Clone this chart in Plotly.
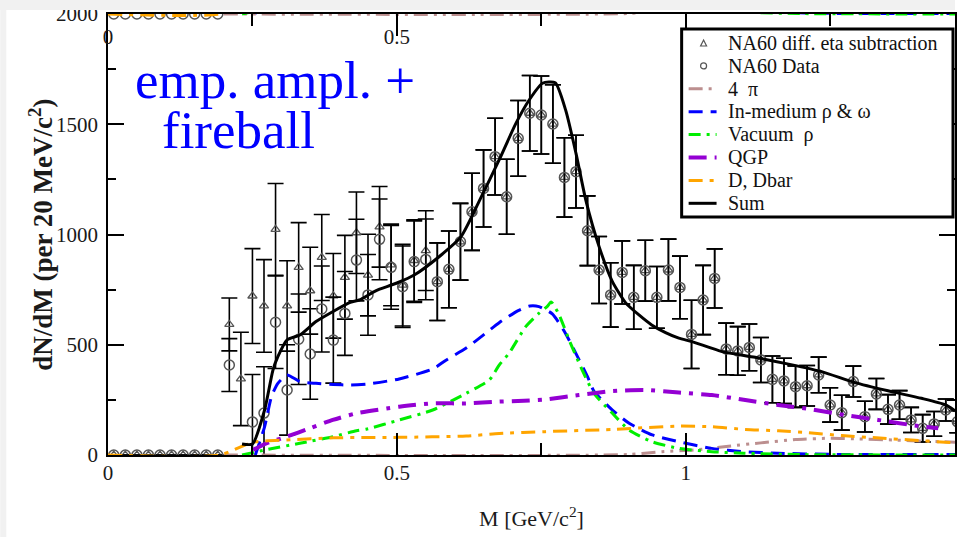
import plotly.graph_objects as go

# ---------------------------------------------------------------- data
# invariant-mass bin centres (20 MeV bins)
mass_bins = [round(0.01 + 0.02 * i, 2) for i in range(74)]

# NA60 data (open circles) and symmetric errors, one entry per bin
na60_data = [
    0, 0, 0, 0, 0, 0, 0, 0, 0, 0,                  # 0.01 - 0.19
    408, None, 150, 190, 602, 295, 525, 458,        # 0.21 - 0.35
    662, 521, 642, 884, 726, 978, 851, 763,         # 0.37 - 0.51
    877, 887, 786, 842, 967, 1103, 1209, 1353,      # 0.53 - 0.67
    1171, 1436, 1550, 1542, 1501, 1259, 1285, 1017, # 0.69 - 0.83
    839, 726, 828, 715, 836, 715, 839, 760,         # 0.85 - 0.99
    547, 703, 801, 481, 472, 488, 431, 343,         # 1.01 - 1.15
    336, 310, 314, 363, 227, 192, 333, 174,         # 1.17 - 1.31
    277, 207, 227, 159, 121, 141, 204, 151,         # 1.33 - 1.47
]
na60_data_err = [
    0, 0, 0, 0, 0, 0, 0, 0, 0, 0,
    120, 0, 215, 210, 210, 205, 205, 205,
    195, 195, 190, 185, 183, 183, 190, 185,
    185, 183, 176, 174, 174, 175, 175, 174,
    170, 172, 171, 177, 178, 180, 165, 158,
    152, 146, 143, 145, 138, 140, 140, 142,
    155, 157, 134, 117, 110, 106, 102, 106,
    103, 94, 92, 81, 78, 79, 70, 70,
    70, 67, 65, 57, 62, 56, 50, 50,
]

# NA60 with differential eta subtraction (open triangles)
na60_eta_sub = [
    0, 0, 0, 0, 0, 0, 0, 0, 0, 0,
    592, 345, 721, 676, 1023, 676, 851, 745,
    896, 722, 806, 1008, 816, 1035, 862, 770,
    882, 927, 786, 842, 967, 1103, 1209, 1353,
    1171, 1436, 1550, 1542, 1501, 1259, 1285, 1017,
    839, 726, 828, 715, 836, 715, 839, 760,
    547, 703, 801, 481, 472, 488, 431, 343,
    336, 310, 314, 363, 227, 192, 333, 174,
    277, 207, 227, 159, 121, 141, 204, 151,
]
na60_eta_sub_err = [
    0, 0, 0, 0, 0, 0, 0, 0, 0, 0,
    120, 212, 215, 210, 208, 205, 203, 197,
    195, 192, 190, 185, 185, 183, 185, 185,
    185, 181, 176, 174, 174, 175, 175, 174,
    170, 172, 171, 177, 178, 180, 165, 158,
    152, 146, 143, 145, 138, 140, 140, 142,
    155, 157, 134, 117, 110, 106, 102, 106,
    103, 94, 92, 81, 78, 79, 70, 70,
    70, 67, 65, 57, 62, 56, 50, 50,
]

# model curves
four_pi_m = [0.20, 0.90, 0.959, 1.016, 1.074, 1.13, 1.19, 1.25, 1.30, 1.36, 1.42, 1.47]
four_pi_v = [0, 2, 15, 23, 40, 55, 70, 76, 73, 68, 62, 58]

inmed_m = [0.255, 0.271, 0.283, 0.294, 0.31, 0.332, 0.36, 0.39, 0.42, 0.45, 0.504,
           0.562, 0.585, 0.62, 0.65, 0.677, 0.71, 0.73, 0.746, 0.769, 0.79, 0.81,
           0.83, 0.841, 0.873, 0.902, 0.942, 0.988, 1.045, 1.10, 1.16, 1.25, 1.47]
inmed_v = [0, 128, 265, 325, 363, 333, 325, 320, 317, 322, 345,
           390, 430, 485, 545, 600, 655, 676, 673, 640, 560, 460,
           355, 290, 204, 144, 91, 60, 30, 15, 8, 3, 2]

vac_m = [0.232, 0.272, 0.332, 0.389, 0.43, 0.447, 0.504, 0.562, 0.62, 0.66, 0.677,
         0.694, 0.723, 0.746, 0.76, 0.767, 0.78, 0.80, 0.82, 0.841, 0.873, 0.902,
         0.942, 0.988, 1.045, 1.10, 1.20, 1.47]
vac_v = [0, 23, 53, 83, 110, 117, 159, 204, 280, 340, 408,
         461, 582, 643, 673, 694, 640, 510, 390, 280, 189, 113,
         60, 30, 15, 8, 2, 0]

qgp_m = [0.251, 0.274, 0.309, 0.349, 0.389, 0.43, 0.504, 0.562, 0.62, 0.677, 0.72,
         0.758, 0.815, 0.873, 0.93, 0.988, 1.045, 1.103, 1.16, 1.218, 1.276, 1.333,
         1.39, 1.437]
qgp_v = [23, 53, 83, 121, 159, 189, 219, 234, 234, 242, 246,
         252, 272, 290, 295, 283, 272, 249, 227, 207, 181, 159,
         136, 121]

dd_m = [0.0, 0.193, 0.251, 0.309, 0.39, 0.504, 0.62, 0.677, 0.757, 0.873, 0.988,
        1.045, 1.103, 1.16, 1.218, 1.27, 1.33, 1.39, 1.449, 1.47]
dd_v = [0, 0, 58, 68, 78, 80, 86, 98, 106, 116, 131,
        128, 116, 110, 100, 88, 78, 68, 58, 55]

sum_m = [0.232, 0.25, 0.271, 0.2855, 0.294, 0.31, 0.332, 0.36, 0.389, 0.418, 0.435,
         0.46, 0.47, 0.50, 0.53, 0.573, 0.611, 0.645, 0.677, 0.706, 0.729, 0.752,
         0.774, 0.792, 0.81, 0.827, 0.85, 0.873, 0.896, 0.919, 0.941, 0.965, 0.988,
         1.011, 1.063, 1.12, 1.178, 1.235, 1.293, 1.35, 1.408, 1.449, 1.466]
sum_v = [50, 50, 204, 385, 446, 522, 544, 605, 650, 691, 703,
         740, 752, 780, 816, 899, 990, 1165, 1338, 1504, 1610, 1686,
         1688, 1565, 1368, 1156, 945, 786, 690, 635, 590, 555, 530,
         514, 469, 443, 412, 378, 328, 291, 257, 228, 200]

x_ticks = [0, 0.5, 1]
x_tick_text = ["0", "0.5", "1"]
y_ticks = [0, 500, 1000, 1500, 2000]
y_tick_text = ["0", "500", "1000", "1500", "2000"]
upper_panel_offset = 2000  # baseline of the stacked panel above

# ---------------------------------------------------------------- styles
SERIF = "Liberation Serif"
INK = "#1a1a1a"
curves = [
    ("4\u00a0\u00a0\u03c0", four_pi_m, four_pi_v, "#bc8f8f", 3, "14px,6px,3px,6px,3px,6px"),
    ("In-medium \u03c1 &amp; \u03c9", inmed_m, inmed_v, "#0000ff", 3, "14px,8px"),
    ("Vacuum\u00a0\u00a0\u03c1", vac_m, vac_v, "#00ee00", 3, "12px,6px,3px,6px"),
    ("QGP", qgp_m, qgp_v, "#9400d3", 4, "18px,8px,4px,8px"),
    ("D, Dbar", dd_m, dd_v, "#ffa500", 3, "14px,7px,4px,7px"),
    ("Sum", sum_m, sum_v, "#000000", 3, "solid"),
]
tri_name = "NA60 diff. eta subtraction"
circ_name = "NA60 Data"

# plot area in pixels: x 108..957, y 14..455
PX_L, PX_R, PX_T, PX_B = 108, 957, 14, 455


def px_x(px):
    return (px - PX_L) / (PX_R - PX_L)


def px_y(py):
    return (PX_B - py) / (PX_B - PX_T)


fig = go.Figure()

# measured spectra
fig.add_trace(go.Scatter(
    x=mass_bins, y=na60_eta_sub, mode="markers", name=tri_name, showlegend=False,
    marker=dict(symbol="triangle-up-open", size=8, color="#555555", line=dict(width=1.3)),
    error_y=dict(type="data", array=na60_eta_sub_err, color="#000000", thickness=1.6, width=8),
))
fig.add_trace(go.Scatter(
    x=mass_bins, y=na60_data, mode="markers", name=circ_name, showlegend=False,
    marker=dict(symbol="circle-open", size=10, color="#555555", line=dict(width=1.5)),
    error_y=dict(type="data", array=na60_data_err, color="#000000", thickness=1.6, width=8),
))

# model contributions
for name, xm, yv, col, w, dash in curves:
    fig.add_trace(go.Scatter(
        x=xm, y=yv, mode="lines", name=name, showlegend=False,
        line=dict(color=col, width=w, dash=dash, shape="spline", smoothing=0.6),
    ))

# bottom edge of the stacked panel above, sharing the top frame line
fig.add_trace(go.Scatter(
    x=mass_bins, y=[None if v is None else v + upper_panel_offset for v in na60_data],
    mode="markers", showlegend=False, xaxis="x2",
    marker=dict(symbol="circle-open", size=10, color="#555555", line=dict(width=1.5)),
))
for name, xm, yv, col, w, dash in curves[:5]:
    fig.add_trace(go.Scatter(
        x=xm, y=[v + upper_panel_offset for v in yv], mode="lines", showlegend=False,
        xaxis="x2", line=dict(color=col, width=w, dash=dash, shape="spline", smoothing=0.6),
    ))

# ---------------------------------------------------------------- key box
shapes = [
    dict(type="rect", xref="paper", yref="paper", x0=-0.1272, x1=-0.1201,
         y0=-0.186, y1=1.0317, fillcolor="#f1f1f1", line=dict(width=0), layer="above"),
    dict(type="rect", xref="paper", yref="paper", x0=-0.1272, x1=1.0,
         y0=1.0091, y1=1.0317, fillcolor="#f1f1f1", line=dict(width=0), layer="above"),
    dict(type="rect", xref="paper", yref="paper", x0=px_x(683), x1=px_x(955),
         y0=px_y(217), y1=px_y(29), fillcolor="white",
         line=dict(color="black", width=3), layer="above"),
]
annotations = []
key_labels = [tri_name, circ_name] + [c[0] for c in curves]
row_y = [43 + 22.9 * i for i in range(len(key_labels))]
for label, ry in zip(key_labels, row_y):
    annotations.append(dict(
        text=label, xref="paper", yref="paper", x=px_x(727), y=px_y(ry),
        xanchor="left", yanchor="middle", showarrow=False,
        font=dict(family=SERIF, size=20, color="#111111"),
    ))
# marker swatches
ty = row_y[0]
shapes.append(dict(
    type="path", xref="paper", yref="paper",
    path="M {:.5f},{:.5f} L {:.5f},{:.5f} L {:.5f},{:.5f} Z".format(
        px_x(702), px_y(ty + 3), px_x(708), px_y(ty + 3), px_x(705), px_y(ty - 3)),
    line=dict(color="#555555", width=1.2), layer="above"))
cy = row_y[1]
shapes.append(dict(
    type="circle", xref="paper", yref="paper",
    x0=px_x(702), x1=px_x(708), y0=px_y(cy + 3), y1=px_y(cy - 3),
    line=dict(color="#555555", width=1.2), layer="above"))
# line swatches
for (name, xm, yv, col, w, dash), ry in zip(curves, row_y[2:]):
    shapes.append(dict(
        type="line", xref="paper", yref="paper",
        x0=px_x(690), x1=px_x(718), y0=px_y(ry), y1=px_y(ry),
        line=dict(color=col, width=w, dash=dash), layer="above"))

# slogan and vertical axis title
annotations += [
    dict(text="emp. ampl. +", xref="paper", yref="paper", x=0.030, y=0.850,
         xanchor="left", yanchor="middle", showarrow=False,
         font=dict(family=SERIF, size=53, color="#0000ff")),
    dict(text="fireball", xref="paper", yref="paper", x=0.061, y=0.738,
         xanchor="left", yanchor="middle", showarrow=False,
         font=dict(family=SERIF, size=53, color="#0000ff")),
    dict(text="<b>dN/dM (per 20 MeV/c<sup>2</sup>)</b>", xref="paper", yref="paper",
         x=px_x(40), y=0.5, xanchor="center", yanchor="middle", textangle=-90,
         showarrow=False, font=dict(family=SERIF, size=27, color=INK)),
]

tick_font = dict(family=SERIF, size=21, color=INK)

fig.update_layout(
    width=957, height=537,
    margin=dict(l=108, r=0, t=14, b=82),
    paper_bgcolor="white", plot_bgcolor="white",
    showlegend=False,
    xaxis=dict(
        range=[0, 1.466], tickmode="array", tickvals=x_ticks, ticktext=x_tick_text,
        ticks="inside", ticklen=22, tickwidth=1.5, tickcolor="black",
        minor=dict(tickvals=[0.25, 0.75, 1.25], ticks="inside", ticklen=12,
                   tickwidth=1.5, tickcolor="black"),
        showline=True, linecolor="black", linewidth=1.5, mirror="ticks",
        showgrid=False, zeroline=False, tickfont=tick_font, ticklabelstandoff=-2,
        title=dict(text="M [GeV/c<sup>2</sup>]", font=dict(family=SERIF, size=22, color=INK),
                   standoff=27),
    ),
    xaxis2=dict(
        range=[0, 1.466], overlaying="x", side="top", tickmode="array",
        tickvals=x_ticks[:2], ticktext=x_tick_text[:2], ticks="", showline=False,
        showgrid=False, zeroline=False, ticklabelposition="inside",
        ticklabeloverflow="allow", ticklabelstandoff=12, tickfont=tick_font,
    ),
    yaxis=dict(
        range=[0, 2000], tickmode="array", tickvals=y_ticks, ticktext=y_tick_text,
        ticks="inside", ticklen=16, tickwidth=1.5, tickcolor="black",
        minor=dict(tickvals=[250, 750, 1250, 1750], ticks="inside", ticklen=8,
                   tickwidth=1.5, tickcolor="black"),
        showline=True, linecolor="black", linewidth=1.5, mirror="ticks",
        showgrid=False, zeroline=False, tickfont=tick_font, ticklabelstandoff=4,
    ),
    annotations=annotations,
    shapes=shapes,
)

fig.write_html("out.html")
